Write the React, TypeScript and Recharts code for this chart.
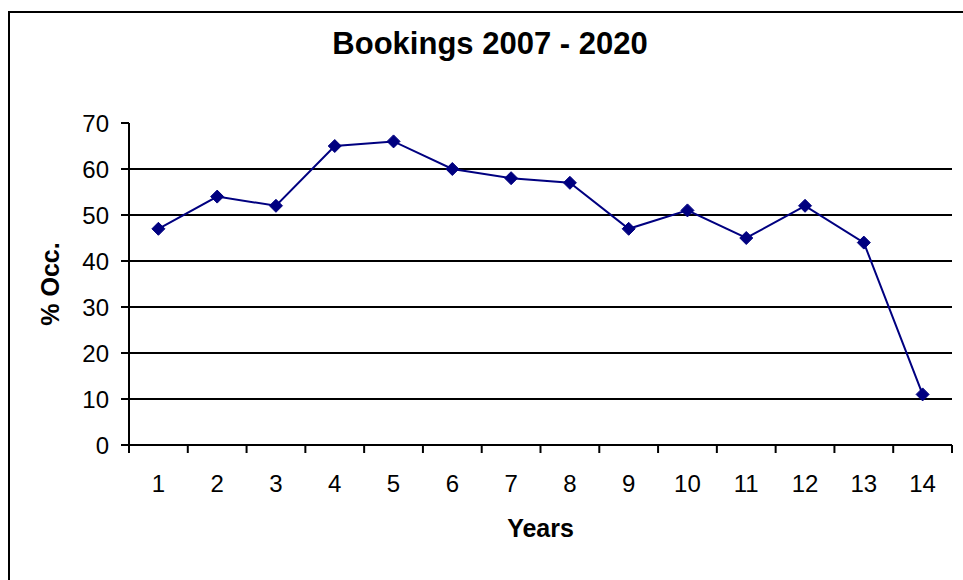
import React from 'react';
import { LineChart, Line, XAxis, YAxis, CartesianGrid, Label } from 'recharts';

const years = [1, 2, 3, 4, 5, 6, 7, 8, 9, 10, 11, 12, 13, 14];
const occupancy = [47, 54, 52, 65, 66, 60, 58, 57, 47, 51, 45, 52, 44, 11];
const yTicks = [0, 10, 20, 30, 40, 50, 60, 70];
const title = 'Bookings 2007 - 2020';
const xTitle = 'Years';
const yTitle = '% Occ.';

const data = years.map((y, i) => ({ year: y, occ: occupancy[i] }));
const boundaries = [...years.map((y) => y - 0.5), years[years.length - 1] + 0.5];
const xDomain = [boundaries[0], boundaries[boundaries.length - 1]];
const gridValues = yTicks.filter((t) => t > yTicks[0] && t < yTicks[yTicks.length - 1]);

const FONT = '"Liberation Sans", Arial, sans-serif';
const NAVY = '#000080';

const Diamond = (props: any) => {
  const { cx, cy } = props;
  if (cx == null || cy == null) return null;
  const r = 6.5;
  return (
    <polygon
      points={`${cx},${cy - r} ${cx + r},${cy} ${cx},${cy + r} ${cx - r},${cy}`}
      fill={NAVY}
      stroke={NAVY}
      strokeWidth={1}
    />
  );
};

export default function App() {
  return (
    <div style={{ position: 'relative', width: 963, height: 580, overflow: 'hidden', background: '#fff' }}>
      <style>{'html,body{margin:0;padding:0;overflow:hidden}html,body,#root{outline:none!important;border:0!important;box-shadow:none!important}'}</style>
      <div
        style={{
          position: 'absolute',
          left: 8,
          top: 11,
          width: 1000,
          height: 600,
          borderLeft: '2px solid #000',
          borderTop: '2px solid #000',
          boxSizing: 'border-box',
        }}
      />
      <div
        style={{
          position: 'absolute',
          left: 8,
          top: 28,
          width: 964,
          textAlign: 'center',
          fontFamily: FONT,
          fontWeight: 'bold',
          fontSize: 31,
          lineHeight: '31px',
          color: '#000',
        }}
      >
        {title}
      </div>
      <div style={{ position: 'absolute', left: 8, top: 8 }}>
        <LineChart
          width={946}
          height={560}
          data={data}
          margin={{ top: 115, right: 2, bottom: 0, left: 21 }}
          style={{ outline: 'none' }}
        >
          <CartesianGrid
            xAxisId="l"
            vertical={false}
            horizontalValues={gridValues}
            stroke="#000"
            strokeWidth={2}
          />
          <XAxis
            xAxisId="b"
            dataKey="year"
            type="number"
            domain={xDomain}
            ticks={boundaries}
            interval={0}
            height={1}
            tickSize={8}
            tickFormatter={() => ''}
            axisLine={{ stroke: '#000', strokeWidth: 2 }}
            tickLine={{ stroke: '#000', strokeWidth: 2 }}
          />
          <XAxis
            xAxisId="l"
            dataKey="year"
            type="number"
            domain={xDomain}
            ticks={years}
            interval={0}
            height={122}
            tickSize={0}
            tickMargin={29}
            axisLine={false}
            tickLine={false}
            tick={{ fill: '#000', fontSize: 24, fontFamily: FONT }}
          >
            <Label
              content={(p: any) => {
                const vb = p.viewBox;
                return (
                  <text
                    x={vb.x + vb.width / 2}
                    y={vb.y + 91}
                    textAnchor="middle"
                    fontFamily={FONT}
                    fontWeight="bold"
                    fontSize={25}
                    fill="#000"
                  >
                    {xTitle}
                  </text>
                );
              }}
            />
          </XAxis>
          <YAxis
            domain={[yTicks[0], yTicks[yTicks.length - 1]]}
            ticks={yTicks}
            interval={0}
            width={100}
            tickSize={8}
            tickMargin={12}
            axisLine={{ stroke: '#000', strokeWidth: 2 }}
            tickLine={{ stroke: '#000', strokeWidth: 2 }}
            tick={{ fill: '#000', fontSize: 24, fontFamily: FONT }}
          >
            <Label
              content={(p: any) => {
                const vb = p.viewBox;
                const x = vb.x + 30;
                const y = vb.y + vb.height / 2;
                return (
                  <text
                    x={x}
                    y={y}
                    transform={`rotate(-90, ${x}, ${y})`}
                    textAnchor="middle"
                    fontFamily={FONT}
                    fontWeight="bold"
                    fontSize={25}
                    fill="#000"
                  >
                    {yTitle}
                  </text>
                );
              }}
            />
          </YAxis>
          <Line
            xAxisId="l"
            type="linear"
            dataKey="occ"
            stroke={NAVY}
            strokeWidth={2}
            dot={<Diamond />}
            activeDot={false}
            isAnimationActive={false}
          />
        </LineChart>
      </div>
    </div>
  );
}
